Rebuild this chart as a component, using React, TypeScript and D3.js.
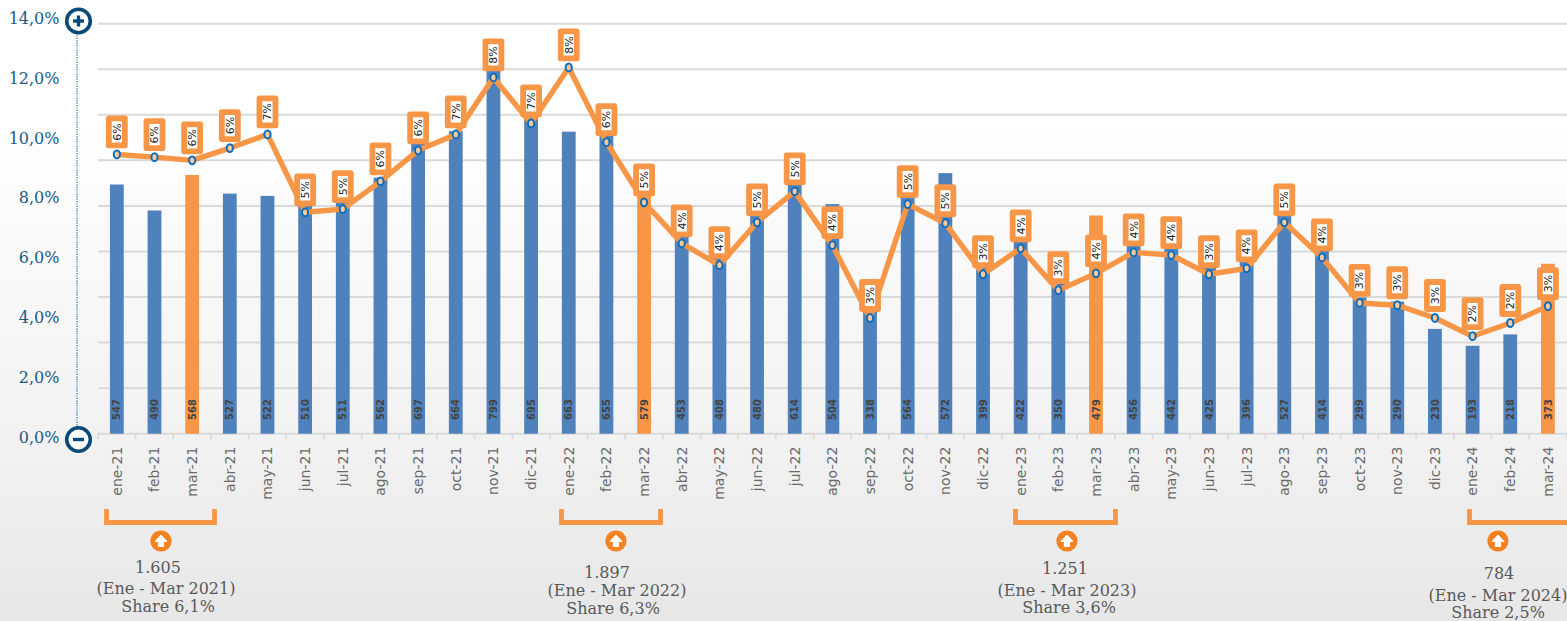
import React, { useEffect, useRef } from 'react';
import * as d3 from 'd3';

const months = [
  'ene-21', 'feb-21', 'mar-21', 'abr-21', 'may-21', 'jun-21', 'jul-21', 'ago-21', 'sep-21', 'oct-21', 'nov-21', 'dic-21',
  'ene-22', 'feb-22', 'mar-22', 'abr-22', 'may-22', 'jun-22', 'jul-22', 'ago-22', 'sep-22', 'oct-22', 'nov-22', 'dic-22',
  'ene-23', 'feb-23', 'mar-23', 'abr-23', 'may-23', 'jun-23', 'jul-23', 'ago-23', 'sep-23', 'oct-23', 'nov-23', 'dic-23',
  'ene-24', 'feb-24', 'mar-24',
];
const units = [
  547, 490, 568, 527, 522, 510, 511, 562, 697, 664, 799, 695,
  663, 655, 579, 453, 408, 480, 614, 504, 338, 564, 572, 399,
  422, 350, 479, 456, 442, 425, 396, 527, 414, 299, 290, 230,
  193, 218, 373,
];
const share = [
  6.13, 6.07, 6.0, 6.27, 6.57, 4.86, 4.93, 5.54, 6.22, 6.57, 7.82, 6.81,
  8.04, 6.4, 5.08, 4.18, 3.7, 4.64, 5.32, 4.14, 2.54, 5.04, 4.62, 3.5,
  4.07, 3.15, 3.52, 3.98, 3.92, 3.5, 3.63, 4.64, 3.87, 2.87, 2.82, 2.54,
  2.14, 2.43, 2.8,
];
const shareLabels = [
  '6%', '6%', '6%', '6%', '7%', '5%', '5%', '6%', '6%', '7%', '8%', '7%',
  '8%', '6%', '5%', '4%', '4%', '5%', '5%', '4%', '3%', '5%', '5%', '3%',
  '4%', '3%', '4%', '4%', '4%', '3%', '4%', '5%', '4%', '3%', '3%', '3%',
  '2%', '2%', '3%',
];
const highlighted = ['mar-21', 'mar-22', 'mar-23', 'mar-24'];
const leftTicks = [0, 2, 4, 6, 8, 10, 12, 14];
const gridTicks = [0, 100, 200, 300, 400, 500, 600, 700, 800, 900];
const summaryTotals = ['1.605', '1.897', '1.251', '784'];
const summaryPeriods = ['(Ene - Mar 2021)', '(Ene - Mar 2022)', '(Ene - Mar 2023)', '(Ene - Mar 2024)'];
const summaryShares = ['Share 6,1%', 'Share 6,3%', 'Share 3,6%', 'Share 2,5%'];

const W = 1567;
const H = 621;
const ORANGE = '#f79646';
const BLUE = '#4f81bd';
const NAVY = '#0b4a78';
const SERIF = '"DejaVu Serif", serif';
const SANS = '"DejaVu Sans", sans-serif';

// bracket + text placement below the axis, one per summary
const brackets = [[104, 217], [559, 663], [1013, 1118], [1467, 1572]];
const iconX = [161, 616, 1067, 1498];
const textX = [[158, 166, 168], [607, 617, 613], [1065, 1067, 1069], [1499, 1498, 1498]];
const textY = [[573, 594, 612], [578, 596, 614], [574, 596, 613], [579, 601, 618]];

const App = () => {
  const svgRef = useRef<SVGSVGElement>(null);

  useEffect(() => {
    const root = d3.select(svgRef.current);
    root.selectAll('*').remove();

    const grad = root.append('defs').append('linearGradient')
      .attr('id', 'bg').attr('x1', 0).attr('x2', 0).attr('y1', 0).attr('y2', 1);
    grad.append('stop').attr('offset', '18%').attr('stop-color', '#ffffff');
    grad.append('stop').attr('offset', '70%').attr('stop-color', '#f2f2f2');
    grad.append('stop').attr('offset', '100%').attr('stop-color', '#e7e7e7');
    root.append('rect').attr('width', W).attr('height', H).attr('fill', 'url(#bg)');

    const x = d3.scaleBand().domain(months).range([98, 98 + 37.66 * months.length]);
    const y = d3.scaleLinear().domain([0, 900]).range([433.7, 23.7]);
    const yShare = d3.scaleLinear().domain([0, 9]).range([433.7, 23.7]);
    const yLabel = d3.scaleLinear().domain([0, 14]).range([442.5, 24]);
    const cx = (m: string) => (x(m) as number) + x.bandwidth() / 2;

    // gridlines
    root.append('g').selectAll('line').data(gridTicks).join('line')
      .attr('x1', 98).attr('x2', W)
      .attr('y1', d => y(d)).attr('y2', d => y(d))
      .attr('stroke', '#dadada').attr('stroke-width', 2);

    // x axis
    const xAxis = root.append('g')
      .attr('transform', `translate(0,${y(0)})`)
      .call(d3.axisBottom(x).tickSize(0).tickPadding(0));
    xAxis.select('.domain').remove();
    xAxis.selectAll('.tick text')
      .attr('transform', 'rotate(-90)')
      .attr('x', -13).attr('y', 0).attr('dy', '0.35em')
      .style('text-anchor', 'end')
      .style('font-family', SANS).style('font-size', '14px').attr('fill', '#6a6a6a');
    root.append('g').selectAll('line').data(d3.range(months.length + 1)).join('line')
      .attr('x1', d => 98 + d * x.step()).attr('x2', d => 98 + d * x.step())
      .attr('y1', y(0)).attr('y2', y(0) + 5.5)
      .attr('stroke', '#dadada').attr('stroke-width', 1.6);

    // bars
    root.append('g').selectAll('rect').data(units).join('rect')
      .attr('x', (_, i) => cx(months[i]) - 6.9)
      .attr('width', 13.8)
      .attr('y', d => y(d))
      .attr('height', d => y(0) - y(d))
      .attr('fill', (_, i) => highlighted.includes(months[i]) ? ORANGE : BLUE);

    root.append('g').selectAll('text').data(units).join('text')
      .attr('transform', (_, i) => `translate(${cx(months[i]) + 3.6},420) rotate(-90)`)
      .style('font-family', SANS).style('font-size', '10px').style('font-weight', 'bold')
      .attr('fill', '#444444')
      .text(d => d);

    // share line
    const line = d3.line<number>().x((_, i) => cx(months[i])).y(d => yShare(d));
    root.append('path').datum(share)
      .attr('d', line)
      .attr('fill', 'none').attr('stroke', ORANGE).attr('stroke-width', 5.4).attr('stroke-linejoin', 'round');

    root.append('g').selectAll('ellipse').data(share).join('ellipse')
      .attr('cx', (_, i) => cx(months[i]))
      .attr('cy', d => yShare(d))
      .attr('rx', 3.1).attr('ry', 3.9)
      .attr('fill', '#f9c9a0').attr('stroke', '#0a6ebd').attr('stroke-width', 2);

    // share labels
    const badge = root.append('g').selectAll('g').data(share).join('g')
      .attr('transform', (d, i) => `translate(${cx(months[i])},${yShare(d) - 22.5})`);
    badge.append('rect')
      .attr('x', -8).attr('y', -13.5).attr('width', 16).attr('height', 27)
      .attr('fill', '#ffffff').attr('stroke', ORANGE).attr('stroke-width', 5.8).attr('stroke-linejoin', 'round');
    badge.append('text')
      .attr('transform', 'rotate(-90)')
      .attr('dy', '0.35em')
      .style('text-anchor', 'middle')
      .style('font-family', SANS).style('font-size', '11px')
      .attr('fill', '#222222')
      .text((_, i) => shareLabels[i]);

    // overlay axis on the left
    root.append('line')
      .attr('x1', 77).attr('x2', 77).attr('y1', 33).attr('y2', 426)
      .attr('stroke', '#2a6f9e').attr('stroke-width', 1.2).attr('stroke-dasharray', '1.2 1.2');
    root.append('g').selectAll('text').data(leftTicks).join('text')
      .attr('x', 59.5)
      .attr('y', d => yLabel(d))
      .style('text-anchor', 'end')
      .style('font-family', SERIF).style('font-size', '16px')
      .attr('fill', '#1a5a87')
      .text(d => `${d},0%`);

    const zoomBtn = root.append('g').selectAll('g').data(['plus', 'minus']).join('g')
      .attr('transform', d => d === 'plus' ? 'translate(78.5,21)' : 'translate(78.5,439.5)');
    zoomBtn.append('circle').attr('r', 11.8).attr('fill', '#ffffff').attr('stroke', NAVY).attr('stroke-width', 3.6);
    zoomBtn.append('rect').attr('x', -5.5).attr('y', -1.7).attr('width', 11).attr('height', 3.4).attr('fill', NAVY);
    zoomBtn.filter(d => d === 'plus').append('rect')
      .attr('x', -1.7).attr('y', -5.5).attr('width', 3.4).attr('height', 11).attr('fill', NAVY);

    // summaries under the axis
    const summary = root.append('g').selectAll('g').data(summaryTotals).join('g');
    summary.append('path')
      .attr('d', (_, i) => {
        const [a, b] = brackets[i];
        return `M${a + 2.5},509V522.5H${b - 2.5}V509`;
      })
      .attr('fill', 'none').attr('stroke', ORANGE).attr('stroke-width', 4.8);
    const icon = summary.append('g').attr('transform', (_, i) => `translate(${iconX[i]},541)`);
    icon.append('circle').attr('r', 10.6).attr('fill', '#f58220');
    icon.append('path').attr('d', 'M0,-6L6,0.5H2.6V5.5H-2.6V0.5H-6Z')
      .attr('fill', '#ffffff').attr('stroke', '#ffffff').attr('stroke-width', 1).attr('stroke-linejoin', 'round');

    const summaryLines = [summaryTotals, summaryPeriods, summaryShares];
    summaryLines.forEach((lines, row) => {
      summary.append('text')
        .attr('x', (_, i) => textX[i][row])
        .attr('y', (_, i) => textY[i][row])
        .style('text-anchor', 'middle')
        .style('font-family', SERIF).style('font-size', '16px')
        .attr('fill', '#595959')
        .text((_, i) => lines[i]);
    });
  }, []);

  return (
    <svg
      ref={svgRef}
      width={W}
      height={H}
      style={{ position: 'absolute', top: 0, left: 0, display: 'block' }}
    />
  );
};

export default App;
